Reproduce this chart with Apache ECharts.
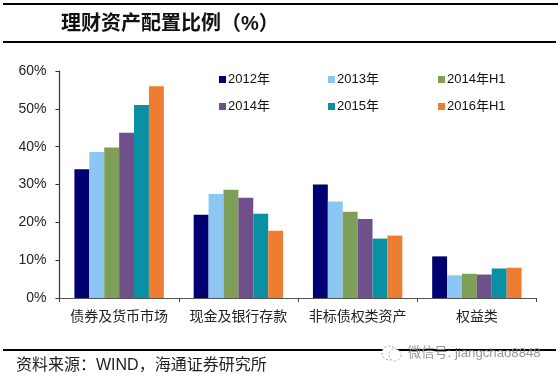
<!DOCTYPE html>
<html>
<head>
<meta charset="utf-8">
<style>html,body{margin:0;padding:0;background:#fff}#c{width:558px;height:379px}</style>
<script src="https://cdn.jsdelivr.net/npm/echarts@6/dist/echarts.min.js"></script>
</head>
<body>
<div id="c"></div>
<script>
const categories = ['债券及货币市场','现金及银行存款','非标债权类资产','权益类'];
const s2012 = [34, 22, 30, 11];
const s2013 = [38.6, 27.5, 25.5, 6];
const s2014H1 = [39.8, 28.6, 22.8, 6.4];
const s2014 = [43.7, 26.5, 20.9, 6.2];
const s2015 = [51, 22.3, 15.7, 7.8];
const s2016H1 = [56, 17.8, 16.5, 8];
const yTicks = {min:0, max:60, interval:10};
const cjk = '"Liberation Sans","Noto Sans CJK SC",sans-serif';

const series = [
  ['2012年', s2012, '#000070'],
  ['2013年', s2013, '#8CC6F2'],
  ['2014年H1', s2014H1, '#7F9F58'],
  ['2014年', s2014, '#70508A'],
  ['2015年', s2015, '#0A90A4'],
  ['2016年H1', s2016H1, '#EE7D31']
].map(([name,data,color]) => ({
  name, data, type:'bar', barGap:0, barWidth:14.9,
  itemStyle:{color}, emphasis:{disabled:true}
}));

const legendCol = (left, names) => ({
  left, top:68, orient:'vertical', itemWidth:7, itemHeight:7, itemGap:14,
  icon:'rect', selectedMode:false, data:names,
  textStyle:{fontFamily:cjk, fontSize:13, color:'#111', padding:[0,0,0,-3]}
});
const rule = (x1,x2,y,w) => ({type:'line', shape:{x1,y1:y,x2,y2:y}, style:{stroke:'#000',lineWidth:w}});
const txt = (x,y,text,fontSize,fill,fontWeight,opacity) => ({type:'text', x, y, z:10,
  style:{text,fontSize,fill,fontWeight:fontWeight||'normal',fontFamily:cjk,opacity:opacity==null?1:opacity,textVerticalAlign:'middle'}});

const chart = echarts.init(document.getElementById('c'), null, {renderer:'canvas'});
chart.setOption({
  animation:false,
  backgroundColor:'#fff',
  grid:{left:59.5, top:71, width:477, height:227, containLabel:false},
  legend:[
    legendCol(214,['2012年','2014年']),
    legendCol(323,['2013年','2015年']),
    legendCol(433,['2014年H1','2016年H1'])
  ],
  xAxis:{type:'category', data:categories,
    axisLine:{lineStyle:{color:'#555',width:1.2}},
    axisTick:{show:true,length:4,lineStyle:{color:'#444'}},
    axisLabel:{interval:0,fontSize:14,color:'#222',margin:11,fontFamily:'"Noto Sans CJK SC",sans-serif'}},
  yAxis:{type:'value', min:yTicks.min, max:yTicks.max, interval:yTicks.interval,
    splitLine:{show:false},
    axisLine:{show:true,lineStyle:{color:'#333',width:1.2}},
    axisTick:{show:true,length:4,lineStyle:{color:'#333'}},
    axisLabel:{formatter:'{value}%',fontSize:14,color:'#222',margin:13,fontFamily:'"Liberation Sans",sans-serif'}},
  series,
  graphic:[
    rule(3,558,4,2), rule(3,556,42,2), rule(3,556,350,2),
    txt(61,24,'理财资产配置比例（%）',20,'#111','bold'),
    txt(16,366,'资料来源：WIND，海通证券研究所',16,'#222'),
    {type:'circle', z:11, shape:{cx:389,cy:353,r:7}, style:{fill:'#fff',stroke:'#999',lineWidth:1,lineDash:[2,2]}},
    {type:'circle', z:11, shape:{cx:395,cy:355,r:6}, style:{fill:'#fff',stroke:'#aaa',lineWidth:1,lineDash:[2,2]}},
    txt(408,353,'微信号: jiangchao8848',13.2,'#8a8a8a','normal',0.9)
  ]
});
</script>
</body>
</html>
